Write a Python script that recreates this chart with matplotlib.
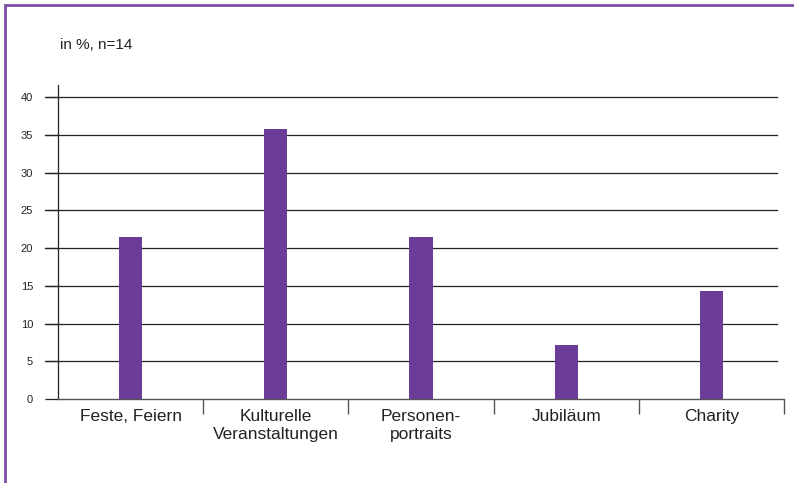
import matplotlib
matplotlib.use("Agg")
import matplotlib.pyplot as plt
from matplotlib.patches import Rectangle

plt.rcParams['font.family'] = ['Liberation Sans', 'DejaVu Sans']

# Anteile in %, n=14
kategorien = ["Feste, Feiern", "Kulturelle\nVeranstaltungen", "Personen-\nportraits",
              "Jubiläum", "Charity"]
anteile = [21.43, 35.71, 21.43, 7.14, 14.29]

LILA = "#6b3d97"
LINIE = "#222222"

fig = plt.figure(figsize=(7.94, 4.83), dpi=100)
ax = fig.add_axes([58 / 794, 1 - 399 / 483, 726 / 794, 314 / 483])

x = list(range(len(kategorien)))
ax.bar(x, anteile, width=0.16, color=LILA, zorder=3)

ax.set_xlim(-0.5, len(kategorien) - 0.5)
ax.set_ylim(0, 41.6)

# Gitterlinien bei 5er-Schritten, leicht über die y-Achse hinaus
for v in range(5, 45, 5):
    ax.axhline(v, xmin=-13 / 726, xmax=719 / 726, color=LINIE, lw=0.9,
               clip_on=False, zorder=2)

ax.set_yticks(range(0, 45, 5))
ax.tick_params(axis='y', length=9.4, width=0.9, color=LINIE, labelsize=8, pad=8.5,
               labelcolor="#222222")

# Kategorienamen mittig, Trennstriche zwischen den Kategorien
ax.set_xticks(x)
ax.set_xticklabels(kategorien, fontsize=12.5, color="#222222", linespacing=1.3)
ax.set_xticks([i + 0.5 for i in x], minor=True)
ax.tick_params(axis='x', which='major', length=0, pad=7)
ax.tick_params(axis='x', which='minor', length=11, width=1.0, color="#555555")

for s in ["top", "right"]:
    ax.spines[s].set_visible(False)
ax.spines["left"].set_color(LINIE)
ax.spines["left"].set_linewidth(0.9)
ax.spines["bottom"].set_color("#555555")
ax.spines["bottom"].set_linewidth(1.0)

fig.text(60 / 794, 1 - 45 / 483, "in %, n=14", fontsize=11, color="#222222",
         va="center", ha="left")

# lila Rahmen oben und links
fig.patches.append(Rectangle((4.5 / 794, -0.1), 1.2, 1.1 - 4.5 / 483,
                             transform=fig.transFigure, fill=False,
                             edgecolor="#7b4fa6", lw=2))

fig.savefig("out.png", dpi=100)
